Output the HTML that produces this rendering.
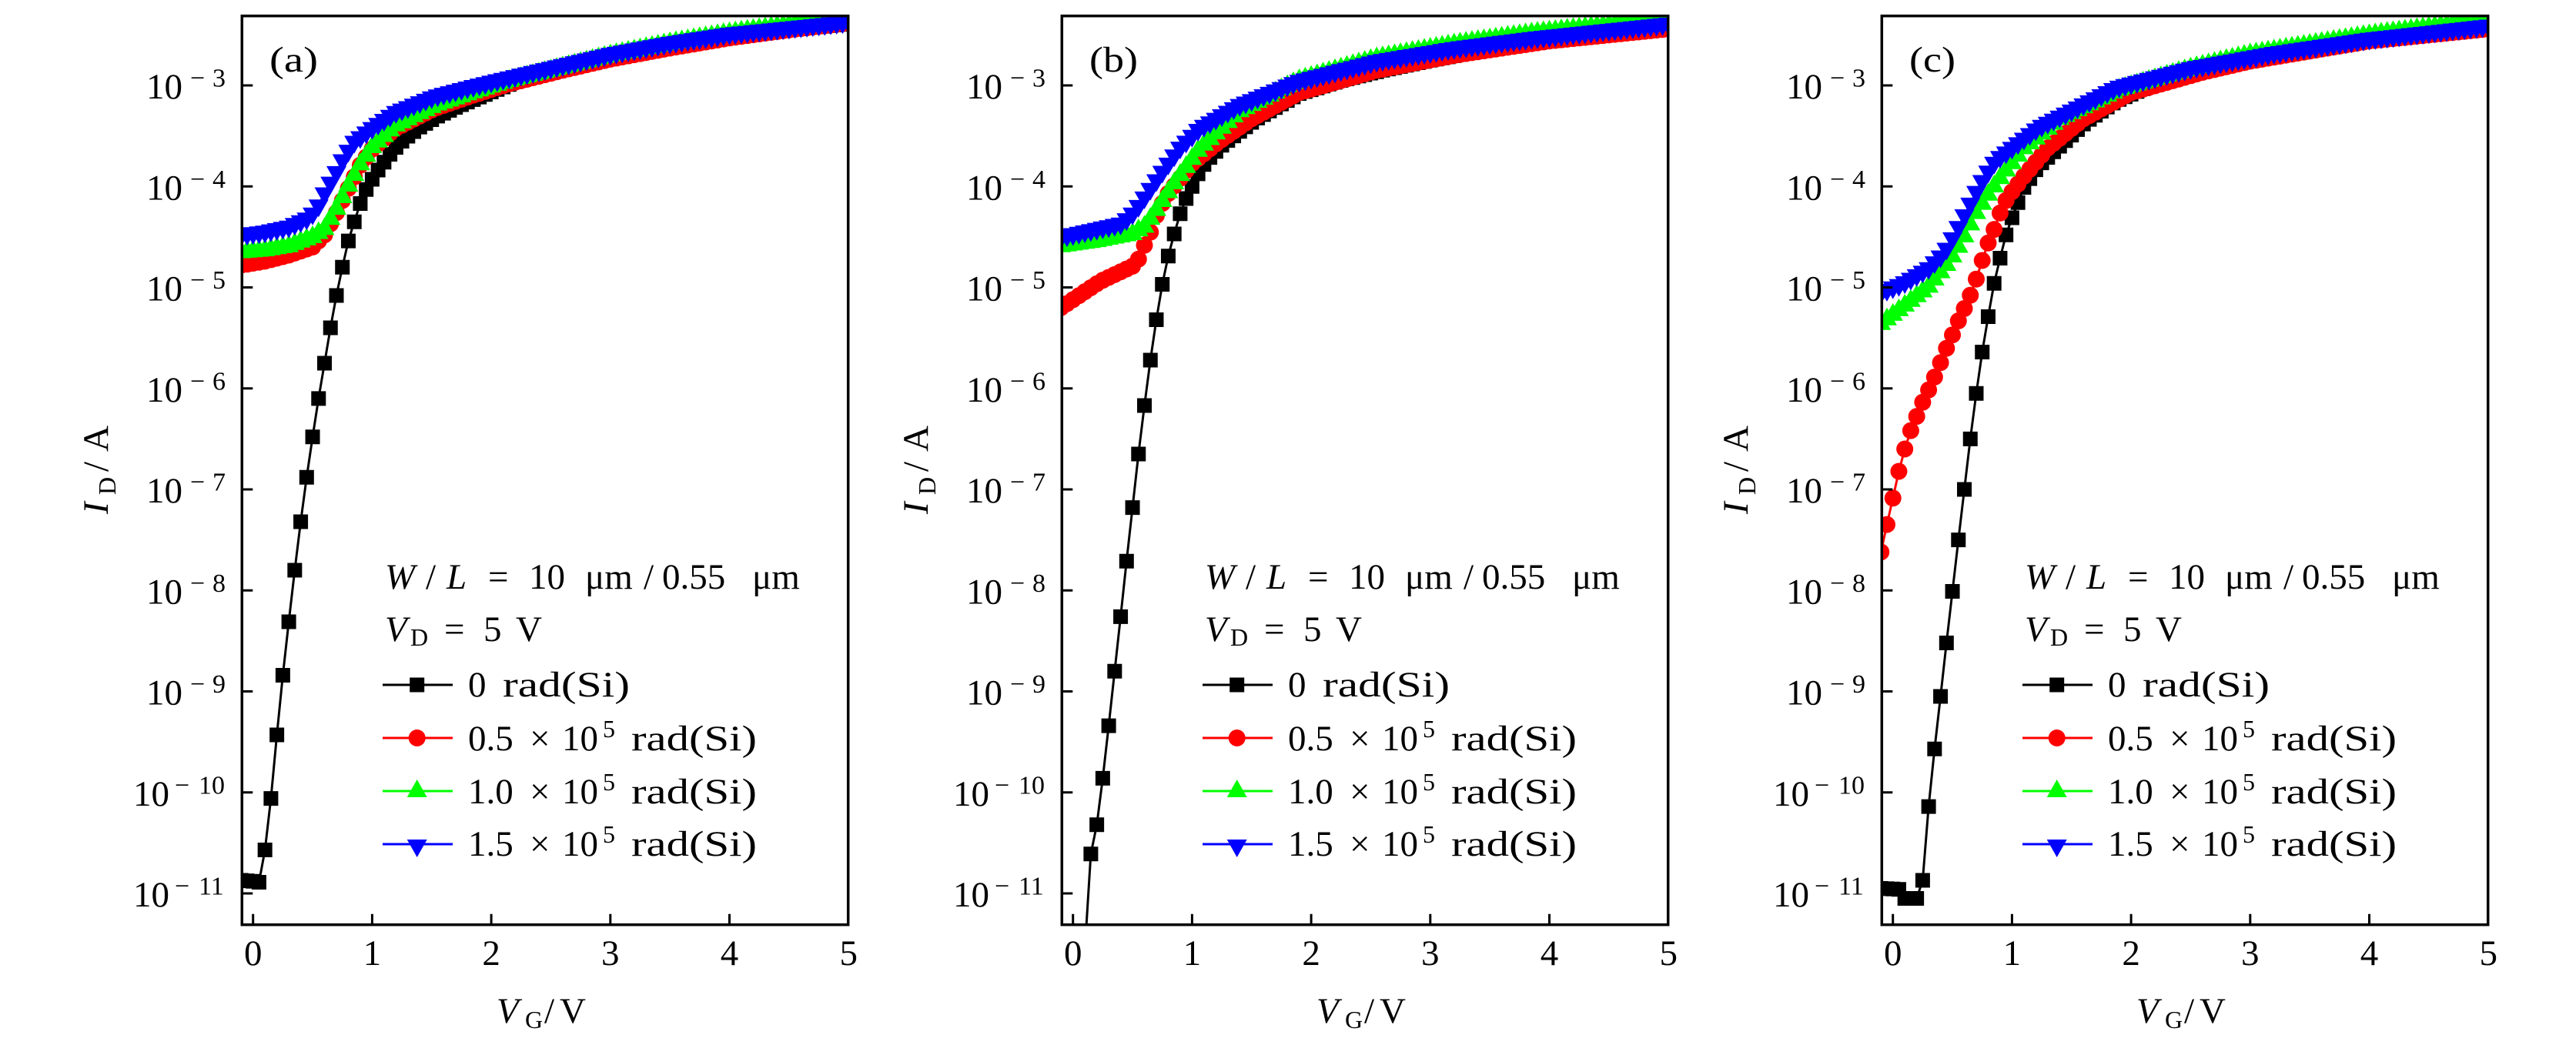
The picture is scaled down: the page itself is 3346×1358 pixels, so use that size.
<!DOCTYPE html>
<html><head><meta charset="utf-8">
<style>
html,body{margin:0;padding:0;background:#fff;width:3346px;height:1358px;overflow:hidden;}
svg{display:block;position:absolute;left:0;top:0;}
text{font-family:"Liberation Serif",serif;fill:#000;}
</style></head>
<body>
<svg width="3346" height="1358" viewBox="0 0 3346 1358" xmlns="http://www.w3.org/2000/svg">
<rect width="3346" height="1358" fill="#fff"/>
<defs><clipPath id="clp"><rect x="314.3" y="20.7" width="787.4" height="1181"/></clipPath></defs>

<!-- Panel A -->
<g>
<g clip-path="url(#clp)" id="d0"></g>
<rect x="314.3" y="20.7" width="787.4" height="1181" fill="none" stroke="#000" stroke-width="3.5"/>
<path d="M314.3 111h14M314.3 242.25h14M314.3 373.5h14M314.3 504.75h14M314.3 636h14M314.3 767.25h14M314.3 898.5h14M314.3 1029.75h14M314.3 1161h14M328.7 1201.7v-14M483.4 1201.7v-14M638.1 1201.7v-14M792.8 1201.7v-14M947.5 1201.7v-14" stroke="#000" stroke-width="3" fill="none"/>
<g font-size="47">
<text x="237" y="128" text-anchor="end">10</text><text y="112.5" font-size="34"><tspan x="247">−</tspan><tspan x="276">3</tspan></text>
<text x="237" y="259.25" text-anchor="end">10</text><text y="243.75" font-size="34"><tspan x="247">−</tspan><tspan x="276">4</tspan></text>
<text x="237" y="390.5" text-anchor="end">10</text><text y="375" font-size="34"><tspan x="247">−</tspan><tspan x="276">5</tspan></text>
<text x="237" y="521.75" text-anchor="end">10</text><text y="506.25" font-size="34"><tspan x="247">−</tspan><tspan x="276">6</tspan></text>
<text x="237" y="653" text-anchor="end">10</text><text y="637.5" font-size="34"><tspan x="247">−</tspan><tspan x="276">7</tspan></text>
<text x="237" y="784.25" text-anchor="end">10</text><text y="768.75" font-size="34"><tspan x="247">−</tspan><tspan x="276">8</tspan></text>
<text x="237" y="915.5" text-anchor="end">10</text><text y="900" font-size="34"><tspan x="247">−</tspan><tspan x="276">9</tspan></text>
<text x="220" y="1046.75" text-anchor="end">10</text><text y="1031.25" font-size="34"><tspan x="227">−</tspan><tspan x="258">10</tspan></text>
<text x="220" y="1178" text-anchor="end">10</text><text y="1162.5" font-size="34"><tspan x="227">−</tspan><tspan x="258">11</tspan></text>
<text y="1254" text-anchor="middle"><tspan x="328.7">0</tspan><tspan x="483.4">1</tspan><tspan x="638.1">2</tspan><tspan x="792.8">3</tspan><tspan x="947.5">4</tspan><tspan x="1102.2">5</tspan></text>
<text transform="translate(140,668) rotate(-90)"><tspan x="0" y="0" font-style="italic">I</tspan><tspan x="25" y="10" font-size="32">D</tspan><tspan x="55" y="0">/</tspan><tspan x="81" y="0">A</tspan></text>
<text y="1329"><tspan x="645" font-style="italic">V</tspan><tspan x="682" y="1336" font-size="32">G</tspan><tspan x="707" y="1329">/</tspan><tspan x="727" y="1329">V</tspan></text>
<text x="350" y="93" textLength="63" lengthAdjust="spacingAndGlyphs">(a)</text>
<text y="765"><tspan x="500" font-style="italic">W</tspan><tspan x="553">/</tspan><tspan x="580" font-style="italic">L</tspan><tspan x="634">=</tspan><tspan x="687">10</tspan><tspan x="760">μm</tspan><tspan x="836">/</tspan><tspan x="860">0.55</tspan><tspan x="977">μm</tspan></text>
<text y="833"><tspan x="500" font-style="italic">V</tspan><tspan x="533" y="839" font-size="32">D</tspan><tspan x="577" y="833">=</tspan><tspan x="628" y="833">5</tspan><tspan x="670" y="833">V</tspan></text>
<text y="905"><tspan x="608">0</tspan></text><text x="653" y="905" textLength="165" lengthAdjust="spacingAndGlyphs">rad(Si)</text>
<text y="975"><tspan x="608">0.5</tspan><tspan x="688">×</tspan><tspan x="730">10</tspan><tspan x="783" y="958" font-size="32">5</tspan></text><text x="820" y="975" textLength="163" lengthAdjust="spacingAndGlyphs">rad(Si)</text>
<text y="1044"><tspan x="608">1.0</tspan><tspan x="688">×</tspan><tspan x="730">10</tspan><tspan x="783" y="1027" font-size="32">5</tspan></text><text x="820" y="1044" textLength="163" lengthAdjust="spacingAndGlyphs">rad(Si)</text>
<text y="1112"><tspan x="608">1.5</tspan><tspan x="688">×</tspan><tspan x="730">10</tspan><tspan x="783" y="1095" font-size="32">5</tspan></text><text x="820" y="1112" textLength="163" lengthAdjust="spacingAndGlyphs">rad(Si)</text>
</g>
<path d="M497 890H588" stroke="#000" stroke-width="3"/><rect x="532.2" y="880.5" width="19" height="19" fill="#000"/>
<path d="M497 959H588" stroke="#f00" stroke-width="3"/><circle cx="541.7" cy="959" r="11" fill="#f00"/>
<path d="M497 1028H588" stroke="#0f0" stroke-width="3"/><path d="M541.7 1013L554.7 1036L528.7 1036Z" fill="#0f0"/>
<path d="M497 1097H588" stroke="#00f" stroke-width="3"/><path d="M528.7 1091L554.7 1091L541.7 1114Z" fill="#00f"/>
</g>

<!-- Panel B -->
<g transform="translate(1065,0)">
<g clip-path="url(#clp)" id="d1"></g>
<rect x="314.3" y="20.7" width="787.4" height="1181" fill="none" stroke="#000" stroke-width="3.5"/>
<path d="M314.3 111h14M314.3 242.25h14M314.3 373.5h14M314.3 504.75h14M314.3 636h14M314.3 767.25h14M314.3 898.5h14M314.3 1029.75h14M314.3 1161h14M328.7 1201.7v-14M483.4 1201.7v-14M638.1 1201.7v-14M792.8 1201.7v-14M947.5 1201.7v-14" stroke="#000" stroke-width="3" fill="none"/>
<g font-size="47">
<text x="237" y="128" text-anchor="end">10</text><text y="112.5" font-size="34"><tspan x="247">−</tspan><tspan x="276">3</tspan></text>
<text x="237" y="259.25" text-anchor="end">10</text><text y="243.75" font-size="34"><tspan x="247">−</tspan><tspan x="276">4</tspan></text>
<text x="237" y="390.5" text-anchor="end">10</text><text y="375" font-size="34"><tspan x="247">−</tspan><tspan x="276">5</tspan></text>
<text x="237" y="521.75" text-anchor="end">10</text><text y="506.25" font-size="34"><tspan x="247">−</tspan><tspan x="276">6</tspan></text>
<text x="237" y="653" text-anchor="end">10</text><text y="637.5" font-size="34"><tspan x="247">−</tspan><tspan x="276">7</tspan></text>
<text x="237" y="784.25" text-anchor="end">10</text><text y="768.75" font-size="34"><tspan x="247">−</tspan><tspan x="276">8</tspan></text>
<text x="237" y="915.5" text-anchor="end">10</text><text y="900" font-size="34"><tspan x="247">−</tspan><tspan x="276">9</tspan></text>
<text x="220" y="1046.75" text-anchor="end">10</text><text y="1031.25" font-size="34"><tspan x="227">−</tspan><tspan x="258">10</tspan></text>
<text x="220" y="1178" text-anchor="end">10</text><text y="1162.5" font-size="34"><tspan x="227">−</tspan><tspan x="258">11</tspan></text>
<text y="1254" text-anchor="middle"><tspan x="328.7">0</tspan><tspan x="483.4">1</tspan><tspan x="638.1">2</tspan><tspan x="792.8">3</tspan><tspan x="947.5">4</tspan><tspan x="1102.2">5</tspan></text>
<text transform="translate(140,668) rotate(-90)"><tspan x="0" y="0" font-style="italic">I</tspan><tspan x="25" y="10" font-size="32">D</tspan><tspan x="55" y="0">/</tspan><tspan x="81" y="0">A</tspan></text>
<text y="1329"><tspan x="645" font-style="italic">V</tspan><tspan x="682" y="1336" font-size="32">G</tspan><tspan x="707" y="1329">/</tspan><tspan x="727" y="1329">V</tspan></text>
<text x="350" y="93" textLength="63" lengthAdjust="spacingAndGlyphs">(b)</text>
<text y="765"><tspan x="500" font-style="italic">W</tspan><tspan x="553">/</tspan><tspan x="580" font-style="italic">L</tspan><tspan x="634">=</tspan><tspan x="687">10</tspan><tspan x="760">μm</tspan><tspan x="836">/</tspan><tspan x="860">0.55</tspan><tspan x="977">μm</tspan></text>
<text y="833"><tspan x="500" font-style="italic">V</tspan><tspan x="533" y="839" font-size="32">D</tspan><tspan x="577" y="833">=</tspan><tspan x="628" y="833">5</tspan><tspan x="670" y="833">V</tspan></text>
<text y="905"><tspan x="608">0</tspan></text><text x="653" y="905" textLength="165" lengthAdjust="spacingAndGlyphs">rad(Si)</text>
<text y="975"><tspan x="608">0.5</tspan><tspan x="688">×</tspan><tspan x="730">10</tspan><tspan x="783" y="958" font-size="32">5</tspan></text><text x="820" y="975" textLength="163" lengthAdjust="spacingAndGlyphs">rad(Si)</text>
<text y="1044"><tspan x="608">1.0</tspan><tspan x="688">×</tspan><tspan x="730">10</tspan><tspan x="783" y="1027" font-size="32">5</tspan></text><text x="820" y="1044" textLength="163" lengthAdjust="spacingAndGlyphs">rad(Si)</text>
<text y="1112"><tspan x="608">1.5</tspan><tspan x="688">×</tspan><tspan x="730">10</tspan><tspan x="783" y="1095" font-size="32">5</tspan></text><text x="820" y="1112" textLength="163" lengthAdjust="spacingAndGlyphs">rad(Si)</text>
</g>
<path d="M497 890H588" stroke="#000" stroke-width="3"/><rect x="532.2" y="880.5" width="19" height="19" fill="#000"/>
<path d="M497 959H588" stroke="#f00" stroke-width="3"/><circle cx="541.7" cy="959" r="11" fill="#f00"/>
<path d="M497 1028H588" stroke="#0f0" stroke-width="3"/><path d="M541.7 1013L554.7 1036L528.7 1036Z" fill="#0f0"/>
<path d="M497 1097H588" stroke="#00f" stroke-width="3"/><path d="M528.7 1091L554.7 1091L541.7 1114Z" fill="#00f"/>
</g>

<!-- Panel C -->
<g transform="translate(2130,0)">
<g clip-path="url(#clp)" id="d2"></g>
<rect x="314.3" y="20.7" width="787.4" height="1181" fill="none" stroke="#000" stroke-width="3.5"/>
<path d="M314.3 111h14M314.3 242.25h14M314.3 373.5h14M314.3 504.75h14M314.3 636h14M314.3 767.25h14M314.3 898.5h14M314.3 1029.75h14M314.3 1161h14M328.7 1201.7v-14M483.4 1201.7v-14M638.1 1201.7v-14M792.8 1201.7v-14M947.5 1201.7v-14" stroke="#000" stroke-width="3" fill="none"/>
<g font-size="47">
<text x="237" y="128" text-anchor="end">10</text><text y="112.5" font-size="34"><tspan x="247">−</tspan><tspan x="276">3</tspan></text>
<text x="237" y="259.25" text-anchor="end">10</text><text y="243.75" font-size="34"><tspan x="247">−</tspan><tspan x="276">4</tspan></text>
<text x="237" y="390.5" text-anchor="end">10</text><text y="375" font-size="34"><tspan x="247">−</tspan><tspan x="276">5</tspan></text>
<text x="237" y="521.75" text-anchor="end">10</text><text y="506.25" font-size="34"><tspan x="247">−</tspan><tspan x="276">6</tspan></text>
<text x="237" y="653" text-anchor="end">10</text><text y="637.5" font-size="34"><tspan x="247">−</tspan><tspan x="276">7</tspan></text>
<text x="237" y="784.25" text-anchor="end">10</text><text y="768.75" font-size="34"><tspan x="247">−</tspan><tspan x="276">8</tspan></text>
<text x="237" y="915.5" text-anchor="end">10</text><text y="900" font-size="34"><tspan x="247">−</tspan><tspan x="276">9</tspan></text>
<text x="220" y="1046.75" text-anchor="end">10</text><text y="1031.25" font-size="34"><tspan x="227">−</tspan><tspan x="258">10</tspan></text>
<text x="220" y="1178" text-anchor="end">10</text><text y="1162.5" font-size="34"><tspan x="227">−</tspan><tspan x="258">11</tspan></text>
<text y="1254" text-anchor="middle"><tspan x="328.7">0</tspan><tspan x="483.4">1</tspan><tspan x="638.1">2</tspan><tspan x="792.8">3</tspan><tspan x="947.5">4</tspan><tspan x="1102.2">5</tspan></text>
<text transform="translate(140,668) rotate(-90)"><tspan x="0" y="0" font-style="italic">I</tspan><tspan x="25" y="10" font-size="32">D</tspan><tspan x="55" y="0">/</tspan><tspan x="81" y="0">A</tspan></text>
<text y="1329"><tspan x="645" font-style="italic">V</tspan><tspan x="682" y="1336" font-size="32">G</tspan><tspan x="707" y="1329">/</tspan><tspan x="727" y="1329">V</tspan></text>
<text x="350" y="93" textLength="60" lengthAdjust="spacingAndGlyphs">(c)</text>
<text y="765"><tspan x="500" font-style="italic">W</tspan><tspan x="553">/</tspan><tspan x="580" font-style="italic">L</tspan><tspan x="634">=</tspan><tspan x="687">10</tspan><tspan x="760">μm</tspan><tspan x="836">/</tspan><tspan x="860">0.55</tspan><tspan x="977">μm</tspan></text>
<text y="833"><tspan x="500" font-style="italic">V</tspan><tspan x="533" y="839" font-size="32">D</tspan><tspan x="577" y="833">=</tspan><tspan x="628" y="833">5</tspan><tspan x="670" y="833">V</tspan></text>
<text y="905"><tspan x="608">0</tspan></text><text x="653" y="905" textLength="165" lengthAdjust="spacingAndGlyphs">rad(Si)</text>
<text y="975"><tspan x="608">0.5</tspan><tspan x="688">×</tspan><tspan x="730">10</tspan><tspan x="783" y="958" font-size="32">5</tspan></text><text x="820" y="975" textLength="163" lengthAdjust="spacingAndGlyphs">rad(Si)</text>
<text y="1044"><tspan x="608">1.0</tspan><tspan x="688">×</tspan><tspan x="730">10</tspan><tspan x="783" y="1027" font-size="32">5</tspan></text><text x="820" y="1044" textLength="163" lengthAdjust="spacingAndGlyphs">rad(Si)</text>
<text y="1112"><tspan x="608">1.5</tspan><tspan x="688">×</tspan><tspan x="730">10</tspan><tspan x="783" y="1095" font-size="32">5</tspan></text><text x="820" y="1112" textLength="163" lengthAdjust="spacingAndGlyphs">rad(Si)</text>
</g>
<path d="M497 890H588" stroke="#000" stroke-width="3"/><rect x="532.2" y="880.5" width="19" height="19" fill="#000"/>
<path d="M497 959H588" stroke="#f00" stroke-width="3"/><circle cx="541.7" cy="959" r="11" fill="#f00"/>
<path d="M497 1028H588" stroke="#0f0" stroke-width="3"/><path d="M541.7 1013L554.7 1036L528.7 1036Z" fill="#0f0"/>
<path d="M497 1097H588" stroke="#00f" stroke-width="3"/><path d="M528.7 1091L554.7 1091L541.7 1114Z" fill="#00f"/>
</g>
</svg>
<script>
(function(){
var X=function(v){return 328.7+154.7*v;};
var Y=function(L){return 111+(-3-L)*131.25;};
var P=[
[ // panel a
[[-0.1,-10.87],[0,-10.88],[0.05,-10.89],[0.1,-10.57],[0.15,-10.06],[0.2,-9.43],[0.25,-8.84],[0.3,-8.31],[0.35,-7.80],[0.4,-7.32],[0.45,-6.88],[0.5,-6.48],[0.55,-6.10],[0.6,-5.75],[0.65,-5.40],[0.7,-5.08],[0.75,-4.80],[0.8,-4.54],[0.85,-4.35],[0.9,-4.17],[0.95,-4.03],[1.0,-3.93],[1.06,-3.82],[1.12,-3.73],[1.17,-3.65],[1.26,-3.54],[1.39,-3.42],[1.54,-3.31],[1.73,-3.20],[1.95,-3.09],[2.25,-2.94],[2.6,-2.83],[3,-2.73],[3.5,-2.62],[4,-2.52],[4.5,-2.45],[5,-2.39]],
[[-0.1,-4.78],[0.1,-4.74],[0.3,-4.68],[0.5,-4.60],[0.6,-4.48],[0.7,-4.26],[0.8,-4.02],[0.9,-3.79],[1.0,-3.63],[1.19,-3.43],[1.52,-3.23],[1.84,-3.10],[2.16,-2.98],[2.6,-2.85],[3,-2.74],[3.5,-2.63],[4,-2.53],[4.5,-2.45],[5,-2.38]],
[[-0.1,-4.65],[0.1,-4.63],[0.3,-4.59],[0.5,-4.50],[0.6,-4.42],[0.7,-4.22],[0.8,-3.99],[0.9,-3.78],[1.0,-3.61],[1.19,-3.40],[1.52,-3.20],[1.84,-3.07],[2.16,-2.95],[2.6,-2.82],[3,-2.70],[3.5,-2.58],[4,-2.48],[4.5,-2.40],[5,-2.33]],
[[-0.1,-4.48],[0.1,-4.45],[0.3,-4.40],[0.45,-4.32],[0.5,-4.27],[0.55,-4.19],[0.6,-4.07],[0.7,-3.86],[0.76,-3.72],[0.85,-3.56],[0.98,-3.44],[1.19,-3.27],[1.52,-3.11],[1.84,-3.01],[2.16,-2.92],[2.6,-2.80],[3,-2.69],[3.5,-2.58],[4,-2.49],[4.5,-2.43],[5,-2.37]]
],
[ // panel b
[[-0.1,-14],[0.05,-12.5],[0.1,-11.55],[0.15,-10.61],[0.2,-10.32],[0.25,-9.86],[0.3,-9.34],[0.35,-8.80],[0.4,-8.26],[0.45,-7.71],[0.5,-7.18],[0.55,-6.65],[0.6,-6.17],[0.65,-5.72],[0.7,-5.32],[0.75,-4.97],[0.8,-4.69],[0.85,-4.47],[0.9,-4.27],[0.95,-4.12],[1.0,-4.00],[1.06,-3.85],[1.12,-3.75],[1.26,-3.58],[1.54,-3.33],[1.9,-3.08],[2.25,-2.95],[2.6,-2.85],[3,-2.75],[3.5,-2.64],[4,-2.55],[4.5,-2.48],[5,-2.43]],
[[-0.1,-5.20],[0.23,-4.94],[0.5,-4.79],[0.55,-4.72],[0.589,-4.61],[0.645,-4.47],[0.695,-4.30],[0.744,-4.18],[0.80,-4.07],[0.86,-3.98],[0.926,-3.88],[0.992,-3.78],[1.22,-3.56],[1.5,-3.33],[1.9,-3.07],[2.55,-2.85],[3.21,-2.70],[4,-2.56],[5,-2.44]],
[[-0.1,-4.59],[0.2,-4.54],[0.5,-4.47],[0.61,-4.39],[0.695,-4.24],[0.86,-3.95],[1.06,-3.63],[1.39,-3.26],[1.89,-2.95],[2.55,-2.73],[3.21,-2.59],[3.87,-2.48],[5,-2.34]],
[[-0.1,-4.50],[0.4,-4.37],[0.48,-4.30],[0.56,-4.18],[0.73,-3.89],[0.89,-3.63],[1.06,-3.43],[1.39,-3.20],[1.89,-2.96],[2.55,-2.76],[3.21,-2.63],[3.87,-2.53],[5,-2.39]]
],
[ // panel c
[[-0.1,-10.95],[0.05,-10.96],[0.1,-11.05],[0.2,-11.05],[0.25,-10.87],[0.3,-10.14],[0.35,-9.57],[0.4,-9.05],[0.45,-8.52],[0.5,-8.01],[0.55,-7.50],[0.6,-7.00],[0.65,-6.50],[0.7,-6.05],[0.75,-5.64],[0.8,-5.29],[0.85,-4.96],[0.9,-4.71],[0.95,-4.48],[1.0,-4.31],[1.05,-4.16],[1.1,-4.01],[1.22,-3.80],[1.62,-3.36],[1.88,-3.15],[2.2,-2.98],[2.6,-2.86],[3,-2.75],[3.5,-2.64],[4,-2.55],[4.5,-2.48],[5,-2.43]],
[[-0.1,-7.62],[-0.081,-7.51],[-0.039,-7.29],[0.005,-7.06],[0.048,-6.83],[0.10,-6.60],[0.155,-6.40],[0.21,-6.25],[0.263,-6.10],[0.328,-5.95],[0.381,-5.80],[0.436,-5.64],[0.50,-5.47],[0.565,-5.29],[0.63,-5.14],[0.694,-4.94],[0.748,-4.74],[0.80,-4.56],[0.856,-4.41],[0.91,-4.23],[0.963,-4.11],[1.1,-3.90],[1.3,-3.62],[1.6,-3.33],[2,-3.07],[2.6,-2.87],[3,-2.76],[4,-2.56],[5,-2.44]],
[[-0.1,-5.36],[0.087,-5.19],[0.302,-4.99],[0.474,-4.74],[0.58,-4.54],[0.69,-4.28],[0.80,-4.08],[0.91,-3.90],[1.1,-3.62],[1.4,-3.33],[1.9,-3.04],[2.5,-2.83],[3,-2.69],[4,-2.50],[5,-2.35]],
[[-0.1,-5.05],[0.087,-4.96],[0.302,-4.81],[0.43,-4.66],[0.517,-4.48],[0.625,-4.23],[0.733,-3.98],[0.84,-3.78],[0.89,-3.72],[1.22,-3.42],[1.88,-3.02],[2.5,-2.83],[3.2,-2.68],[4,-2.54],[5,-2.41]]
]
];
var cols=['#000000','#ff0000','#00ff00','#0000ff'];
function f(p,v){
  if(v<=p[0][0])return p[0][1];
  for(var i=0;i<p.length-1;i++){
    if(v<=p[i+1][0]){var t=(v-p[i][0])/(p[i+1][0]-p[i][0]);return p[i][1]+t*(p[i+1][1]-p[i][1]);}
  }
  return p[p.length-1][1];
}
function mk(j,x,y){
  x=+x.toFixed(2);y=+y.toFixed(2);
  if(j===0)return 'M'+(x-9.5)+','+(y-9.5)+'h19v19h-19z';
  if(j===1)return 'M'+(x-11)+','+y+'a11,11 0 1,0 22,0a11,11 0 1,0 -22,0z';
  if(j===2)return 'M'+x+','+(y-15)+'L'+(x+13)+','+(y+8)+'L'+(x-13)+','+(y+8)+'z';
  return 'M'+(x-13)+','+(y-8)+'L'+(x+13)+','+(y-8)+'L'+x+','+(y+15)+'z';
}
for(var k=0;k<3;k++){
  var s='';
  for(var j=0;j<4;j++){
    var p=P[k][j],pts=[],d='';
    for(var i=0;i<=102;i++){
      var v=-0.1+0.05*i;
      var x=X(v),y=Y(f(p,v));
      if(y>1300)y=1300;
      pts.push(x.toFixed(2)+','+y.toFixed(2));
      if(y<1240&&y>-20)d+=mk(j,x,y);
    }
    s+='<path d="M'+pts.join('L')+'" fill="none" stroke="'+cols[j]+'" stroke-width="3" stroke-linejoin="round"/>';
    s+='<path d="'+d+'" fill="'+cols[j]+'"/>';
  }
  document.getElementById('d'+k).innerHTML=s;
}
})();
</script>
</body></html>
